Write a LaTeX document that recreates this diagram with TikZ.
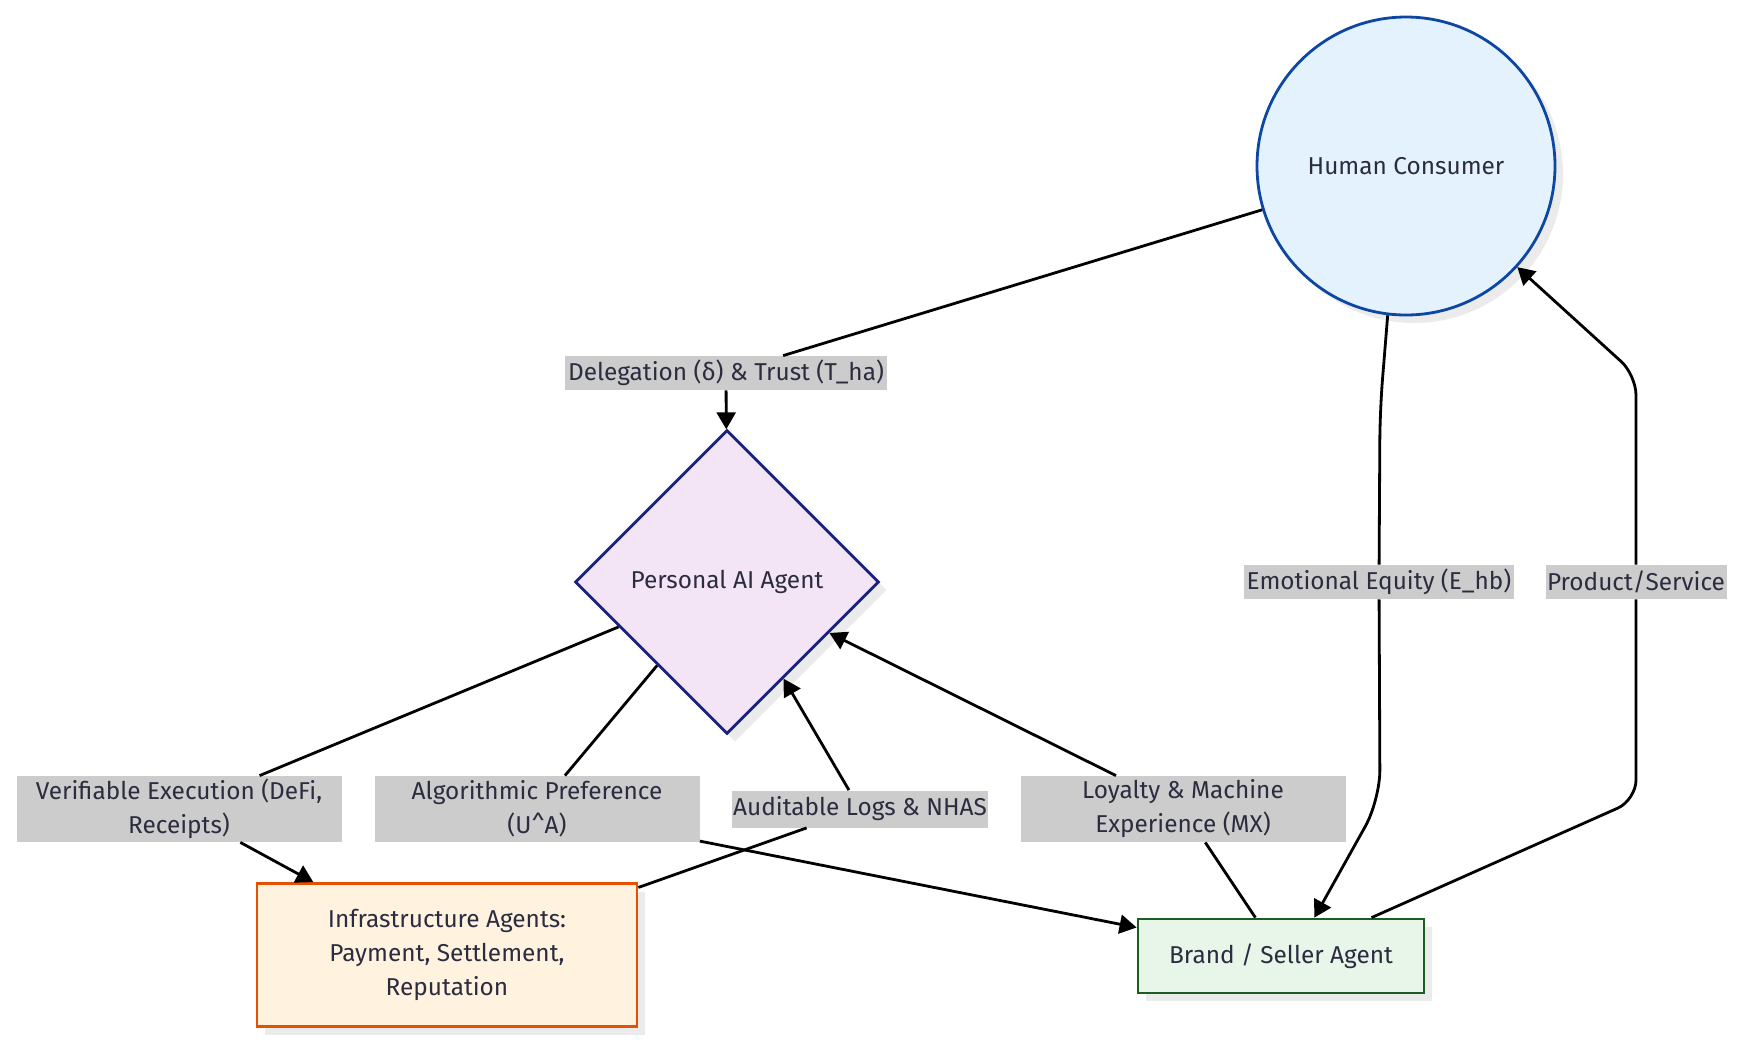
\documentclass[tikz,border=0pt]{standalone}
\usepackage{fontspec}
\setmainfont{Fira Sans}
\usepackage{tikz}
\usetikzlibrary{positioning, arrows.meta, shapes.geometric, shadows}

\definecolor{txt}{RGB}{44,44,64}
\definecolor{lblgray}{RGB}{204,204,204}
\definecolor{hcfill}{RGB}{227,242,253}
\definecolor{hcdraw}{RGB}{13,71,161}
\definecolor{pafill}{RGB}{243,229,245}
\definecolor{padraw}{RGB}{26,35,126}
\definecolor{inffill}{RGB}{255,243,224}
\definecolor{infdraw}{RGB}{230,81,0}
\definecolor{bsfill}{RGB}{232,245,233}
\definecolor{bsdraw}{RGB}{27,94,32}

\begin{document}
\begin{tikzpicture}[
  x=0.5pt, y=-0.5pt,
  font=\fontsize{12.2}{17}\selectfont, text=txt,
  shade/.style={drop shadow={shadow xshift=4pt, shadow yshift=-4pt, fill=black!8, opacity=1}},
  agent/.style={line width=1.4pt, align=center, shade},
  elabel/.style={fill=lblgray, inner sep=0pt, minimum height=17pt, align=center},
  twoline/.style={elabel, minimum width=162.5pt, minimum height=33pt},
  arr/.style={-{Triangle[length=8.5pt, width=9.5pt]}, line width=1.4pt},
]
  \useasboundingbox (0,0) rectangle (1745,1051);

  % Agents
  \node[agent, circle, draw=hcdraw, fill=hcfill, minimum size=149pt] (hc) at (1406,166) {Human Consumer};
  \node[agent, diamond, draw=padraw, fill=pafill, minimum width=152pt, minimum height=152pt] (pa) at (727,582) {Personal AI Agent};
  \node[agent, rectangle, draw=infdraw, fill=inffill, minimum width=190pt, minimum height=71.5pt] (inf) at (447,955)
    {Infrastructure Agents:\\ Payment, Settlement,\\ Reputation};
  \node[agent, rectangle, draw=bsdraw, fill=bsfill, minimum width=143pt, minimum height=37pt] (bs) at (1281,956) {Brand / Seller Agent};

  % Edge labels
  \node[elabel, minimum width=161pt] (dlg) at (726,373) {Delegation (δ) \& Trust (T\_ha)};
  \node[twoline] (ver) at (179,809) {Verifiable Execution (DeFi,\\ Receipts)};
  \node[twoline] (alg) at (537,809) {Algorithmic Preference\\ (U\^{}A)};
  \node[elabel, minimum width=128pt, minimum height=18.5pt] (aud) at (860,809) {Auditable Logs \& NHAS};
  \node[twoline] (loy) at (1183,809) {Loyalty \& Machine\\ Experience (MX)};
  \node[elabel, minimum width=135pt] (emo) at (1379,582) {Emotional Equity (E\_hb)};
  \node[elabel, minimum width=90.5pt] (prd) at (1636,582) {Product/Service};

  % Bends of the two long connectors
  \coordinate (emo1) at (1380,410);
  \coordinate (emo2) at (1380,800);
  \coordinate (prd1) at (1636,800);
  \coordinate (prd2) at (1636,375);

  % Connectors
  \draw[arr] (hc) -- (dlg) -- (pa);
  \draw[arr] (pa) -- (ver) -- (inf);
  \draw[arr] (pa) -- (alg) -- (bs);
  \draw[arr] (inf) -- (aud) -- (pa);
  \draw[arr] (bs) -- (loy) -- (pa);
  \draw[arr, rounded corners=15pt] (hc.263) -- (emo1) -- (emo) -- (emo2) -- (bs.49);
  \draw[arr, rounded corners=10pt] (bs.23) -- (prd1) -- (prd) -- (prd2) -- (hc);
\end{tikzpicture}
\end{document}
